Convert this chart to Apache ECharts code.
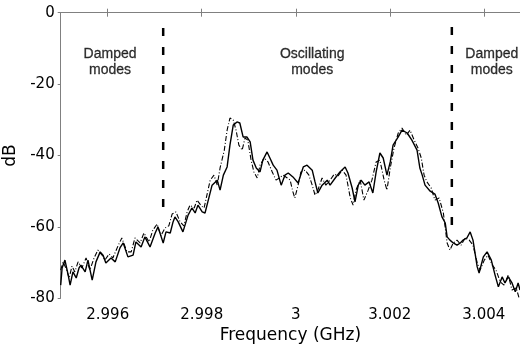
<!DOCTYPE html>
<html><head><meta charset="utf-8">
<script src="https://cdn.jsdelivr.net/npm/echarts@6/dist/echarts.min.js"></script>
<style>html,body{margin:0;padding:0;background:#fff}#c{width:520px;height:345px}</style>
</head><body><div id="c"></div>
<script>
const xTicks = [2.996, 2.998, 3, 3.002, 3.004];
const yTicks = [-80, -60, -40, -20, 0];

const solidFreq = [2.99500,2.99503,2.99509,2.99516,2.99520,2.99526,2.99533,2.99539,2.99543,2.99552,2.99558,2.99567,2.99575,2.99584,2.99590,2.99596,2.99607,2.99616,2.99626,2.99633,2.99643,2.99654,2.99660,2.99671,2.99679,2.99690,2.99701,2.99707,2.99718,2.99724,2.99733,2.99739,2.99743,2.99750,2.99760,2.99771,2.99779,2.99786,2.99792,2.99801,2.99807,2.99813,2.99822,2.99833,2.99839,2.99846,2.99854,2.99860,2.99867,2.99875,2.99881,2.99888,2.99896,2.99903,2.99909,2.99916,2.99924,2.99930,2.99939,2.99945,2.99952,2.99960,2.99969,2.99977,2.99984,2.99994,3.00005,3.00016,3.00024,3.00035,3.00041,3.00047,3.00056,3.00067,3.00073,3.00084,3.00094,3.00105,3.00111,3.00120,3.00126,3.00133,3.00139,3.00147,3.00156,3.00164,3.00171,3.00179,3.00186,3.00194,3.00201,3.00207,3.00218,3.00226,3.00237,3.00247,3.00258,3.00264,3.00269,3.00275,3.00286,3.00296,3.00303,3.00311,3.00318,3.00322,3.00328,3.00335,3.00343,3.00350,3.00356,3.00364,3.00371,3.00377,3.00386,3.00390,3.00399,3.00407,3.00416,3.00424,3.00431,3.00439,3.00445,3.00452,3.00460,3.00467,3.00473,3.00477];
const solidDb = [-76.3,-71.5,-69.3,-73.5,-76.3,-72.6,-74.3,-71.5,-70.7,-72.6,-69.3,-74.9,-69.8,-67.0,-67.9,-70.1,-68.7,-69.8,-65.9,-64.5,-68.4,-67.9,-64.2,-65.6,-62.8,-65.6,-61.7,-60.0,-64.5,-61.4,-61.7,-58.6,-57.2,-58.6,-61.4,-56.7,-54.7,-56.1,-53.9,-55.8,-56.1,-53.0,-48.3,-46.9,-49.7,-45.5,-43.2,-37.1,-31.5,-30.6,-30.9,-34.8,-34.8,-36.2,-41.3,-43.5,-44.6,-41.3,-39.0,-40.7,-42.7,-44.1,-48.3,-45.5,-44.9,-46.0,-47.7,-43.2,-42.7,-44.1,-47.4,-50.5,-48.3,-46.9,-48.3,-46.3,-44.6,-43.2,-44.9,-49.1,-53.0,-48.3,-46.9,-48.3,-47.4,-50.5,-44.6,-39.3,-40.7,-45.5,-41.8,-37.1,-34.8,-32.9,-33.7,-35.7,-38.5,-43.5,-45.5,-48.3,-50.0,-50.8,-53.3,-57.2,-58.9,-62.8,-63.7,-64.5,-65.1,-64.5,-63.7,-63.1,-61.4,-63.7,-71.2,-72.9,-68.4,-67.0,-69.3,-73.5,-76.8,-74.0,-75.7,-74.0,-75.7,-78.2,-75.7,-77.7];

const dashFreq = [2.99500,2.99505,2.99511,2.99518,2.99524,2.99530,2.99537,2.99545,2.99554,2.99562,2.99571,2.99579,2.99588,2.99594,2.99603,2.99611,2.99622,2.99630,2.99641,2.99650,2.99658,2.99669,2.99677,2.99688,2.99696,2.99705,2.99713,2.99722,2.99730,2.99737,2.99745,2.99754,2.99762,2.99769,2.99775,2.99784,2.99790,2.99799,2.99805,2.99811,2.99818,2.99826,2.99833,2.99839,2.99848,2.99854,2.99860,2.99867,2.99873,2.99879,2.99886,2.99892,2.99898,2.99905,2.99911,2.99918,2.99924,2.99933,2.99941,2.99950,2.99958,2.99965,2.99973,2.99982,2.99988,2.99994,2.99998,3.00005,3.00011,3.00020,3.00028,3.00035,3.00041,3.00047,3.00056,3.00064,3.00073,3.00082,3.00090,3.00099,3.00107,3.00116,3.00122,3.00128,3.00137,3.00145,3.00154,3.00162,3.00171,3.00179,3.00188,3.00194,3.00201,3.00209,3.00218,3.00226,3.00235,3.00243,3.00252,3.00260,3.00267,3.00273,3.00279,3.00288,3.00296,3.00305,3.00314,3.00322,3.00328,3.00335,3.00343,3.00352,3.00360,3.00369,3.00377,3.00386,3.00392,3.00401,3.00409,3.00418,3.00426,3.00435,3.00443,3.00452,3.00460,3.00469,3.00475];
const dashDb = [-72.1,-69.8,-71.5,-74.3,-71.0,-72.6,-69.8,-71.5,-68.7,-72.1,-68.7,-66.5,-67.9,-69.3,-67.6,-68.7,-65.3,-63.1,-67.0,-67.0,-63.1,-64.5,-61.7,-64.2,-60.9,-59.2,-62.5,-60.3,-59.7,-56.4,-55.8,-58.6,-59.7,-55.8,-53.9,-54.7,-52.5,-54.1,-54.7,-51.1,-46.9,-45.5,-48.3,-43.5,-38.5,-32.9,-29.5,-30.05,-32.9,-37.1,-38.5,-35.1,-35.7,-41.3,-44.6,-46.3,-42.7,-40.7,-41.8,-44.6,-46.9,-46.3,-45.5,-46.3,-46.9,-50.2,-51.9,-48.3,-44.6,-44.1,-45.5,-48.3,-51.1,-49.7,-46.3,-48.3,-46.9,-45.2,-45.7,-44.1,-45.5,-51.9,-53.9,-49.7,-46.9,-52.5,-49.7,-46.9,-41.8,-41.3,-46.9,-49.7,-43.5,-37.9,-33.7,-32.3,-34.3,-32.9,-35.7,-37.9,-40.7,-45.5,-47.4,-49.1,-52.5,-51.9,-56.1,-64.5,-66.5,-64.5,-63.7,-65.1,-63.1,-63.7,-65.1,-70.1,-72.1,-69.3,-67.9,-70.7,-72.1,-75.4,-76.3,-73.5,-77.7,-77.1,-79.9];

const dividerFreq = [2.99718, 3.00332];
const dividerTop = [-4.3, -4.0];
const dividerBottom = [-57.5, -61.3];

const annoFreq = [2.99605, 3.00035, 3.00417];
const annoDb = [-13.8, -13.8, -13.8];
const annoText = ['Damped\nmodes', 'Oscillating\nmodes', 'Damped\nmodes'];

const zip = (a, b) => a.map((v, i) => [v, b[i]]);
const axisGray = '#808080';
const tickFont = {fontFamily: 'DejaVu Sans', fontSize: 15, color: '#000'};

const series = [
  {type: 'line', data: zip(dashFreq, dashDb), symbol: 'none', clip: true,
   lineStyle: {color: '#000', width: 1.1, type: [5, 2, 1, 2]}, z: 3},
  {type: 'line', data: zip(solidFreq, solidDb), symbol: 'none', clip: true,
   lineStyle: {color: '#000', width: 1.4}, z: 4}
];
dividerFreq.forEach((f, i) => {
  series.push({type: 'line', data: [[f, dividerTop[i]], [f, dividerBottom[i]]], symbol: 'none',
    lineStyle: {color: '#000', width: 2.5, type: [8, 11]}, z: 5});
});
series.push({type: 'scatter', data: zip(annoFreq, annoDb), symbolSize: 0, z: 6,
  itemStyle: {color: '#000'},
  label: {show: true, position: 'inside', formatter: p => annoText[p.dataIndex],
    fontFamily: 'Liberation Sans', fontSize: 14, lineHeight: 16, color: '#000',
    textBorderColor: '#000', textBorderWidth: 0.3, align: 'center'}});

const chart = echarts.init(document.getElementById('c'), null, {renderer: 'canvas'});
chart.setOption({
  animation: false,
  backgroundColor: '#fff',
  grid: {left: 60.7, right: 0, top: 12.7, bottom: 46.7, containLabel: false, outerBoundsMode: 'none'},
  xAxis: [
    {type: 'value', min: 2.995, max: 3.00477, position: 'bottom',
     axisLine: {show: true, lineStyle: {color: axisGray, width: 1}},
     axisTick: {show: true, inside: true, length: 4, customValues: xTicks, lineStyle: {color: axisGray}},
     axisLabel: Object.assign({show: true, margin: 9, customValues: xTicks,
       formatter: v => String(+(+v).toFixed(3))}, tickFont),
     splitLine: {show: false},
     name: 'Frequency (GHz)', nameLocation: 'middle', nameGap: 22,
     nameTextStyle: {fontFamily: 'DejaVu Sans', fontSize: 17, color: '#000'}},
    {type: 'value', min: 2.995, max: 3.00477, position: 'top',
     axisLine: {show: true, lineStyle: {color: axisGray, width: 1}},
     axisTick: {show: true, inside: true, length: 4, customValues: xTicks, lineStyle: {color: axisGray}},
     axisLabel: {show: false}, splitLine: {show: false}}
  ],
  yAxis: {type: 'value', min: -80, max: 0, interval: 20,
    axisLine: {show: true, lineStyle: {color: axisGray, width: 1}},
    axisTick: {show: true, inside: false, length: 3, lineStyle: {color: axisGray}},
    axisLabel: Object.assign({margin: 6}, tickFont),
    splitLine: {show: false},
    name: 'dB', nameLocation: 'middle', nameGap: 37, nameRotate: 90,
    nameTextStyle: {fontFamily: 'DejaVu Sans', fontSize: 17, color: '#000'}},
  series: series
});
</script>
</body></html>
